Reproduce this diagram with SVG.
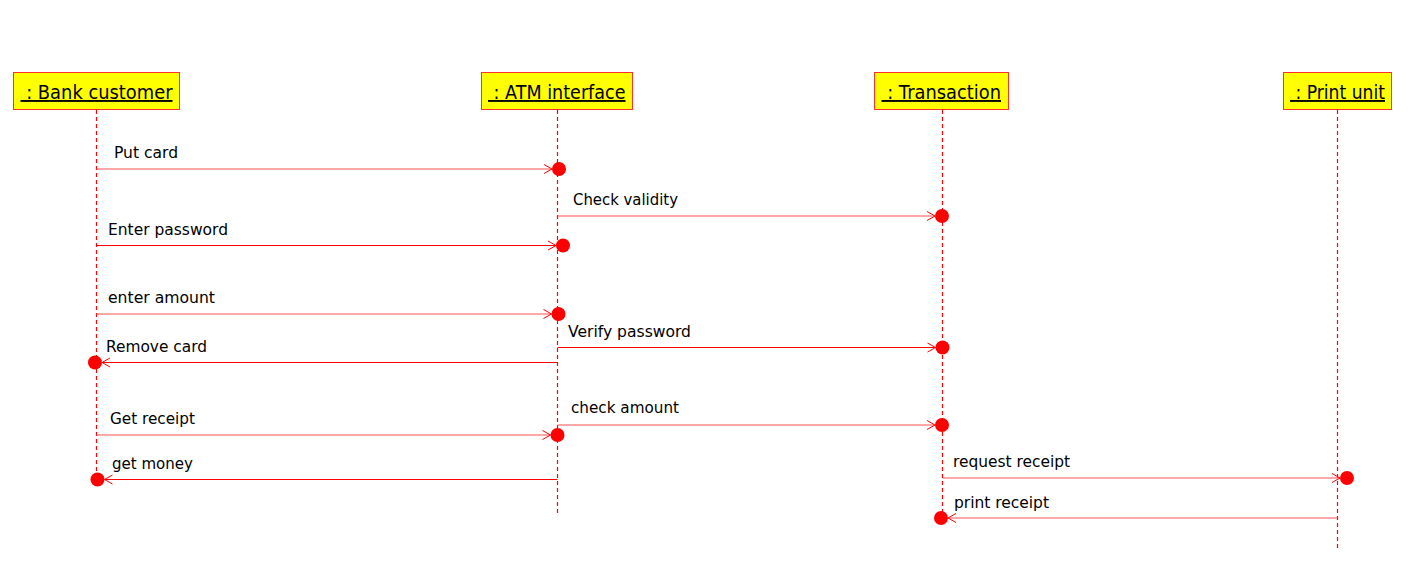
<svg xmlns="http://www.w3.org/2000/svg" width="1421" height="574" viewBox="0 0 1421 574">
<style>
.box{fill:#ffff00;stroke:#ff3030;stroke-width:1}
.hdr{font-family:"DejaVu Sans",Verdana,sans-serif;font-size:19px;fill:#000;text-decoration:underline}
.life{stroke:#ff0000;stroke-width:1.2;stroke-dasharray:4 3;fill:none}
.msg{stroke:#ff0000;stroke-width:1;fill:none}
.lt{stroke:#ff5050}
.lbl{font-family:"DejaVu Sans",Verdana,sans-serif;font-size:16px;fill:#000}
</style>
<defs>
<marker id="hit" markerUnits="userSpaceOnUse" orient="auto" refX="0" refY="0" markerWidth="30" markerHeight="30" overflow="visible">
<path d="M-8,-4.5 L0,0 L-8,4.5" fill="none" stroke="#ff0000" stroke-width="1"/>
<circle cx="7" cy="0" r="7" fill="#ff0000"/>
</marker>
</defs>
<rect width="1421" height="574" fill="#ffffff"/>

<g id="bank-customer">
<rect class="box" x="13.5" y="72.5" width="166" height="37"/>
<line class="life" x1="96.5" y1="110" x2="96.5" y2="479"/>
<text class="hdr" x="20.5" y="99" xml:space="preserve" textLength="152" lengthAdjust="spacingAndGlyphs"> : Bank customer</text>
</g>
<g id="atm-interface">
<rect class="box" x="481.5" y="72.5" width="151" height="37"/>
<line class="life" x1="557.5" y1="110" x2="557.5" y2="514"/>
<text class="hdr" x="488" y="99" xml:space="preserve" textLength="137.5" lengthAdjust="spacingAndGlyphs"> : ATM interface</text>
</g>
<g id="transaction">
<rect class="box" x="874.5" y="72.5" width="134" height="37"/>
<line class="life" x1="942.5" y1="110" x2="942.5" y2="518"/>
<text class="hdr" x="881.5" y="99" xml:space="preserve" textLength="119.5" lengthAdjust="spacingAndGlyphs"> : Transaction</text>
</g>
<g id="print-unit">
<rect class="box" x="1283.5" y="72.5" width="108" height="37"/>
<line class="life" x1="1337.5" y1="110" x2="1337.5" y2="551"/>
<text class="hdr" x="1290" y="99" xml:space="preserve" textLength="95" lengthAdjust="spacingAndGlyphs"> : Print unit</text>
</g>

<g id="connectors">
<line class="msg lt" x1="96.5" y1="169" x2="552" y2="169" marker-end="url(#hit)"/>
<line class="msg lt" x1="557.5" y1="216" x2="935" y2="216" marker-end="url(#hit)"/>
<line class="msg" x1="96.5" y1="245.5" x2="556" y2="245.5" marker-end="url(#hit)"/>
<line class="msg lt" x1="96.5" y1="314" x2="551.5" y2="314" marker-end="url(#hit)"/>
<line class="msg" x1="557.5" y1="347.5" x2="935.5" y2="347.5" marker-end="url(#hit)"/>
<line class="msg" x1="557.5" y1="362.5" x2="102" y2="362.5" marker-end="url(#hit)"/>
<line class="msg lt" x1="557.5" y1="425" x2="935" y2="425" marker-end="url(#hit)"/>
<line class="msg lt" x1="96.5" y1="435" x2="550.5" y2="435" marker-end="url(#hit)"/>
<line class="msg" x1="557.5" y1="479.5" x2="104.5" y2="479.5" marker-end="url(#hit)"/>
<line class="msg lt" x1="942.5" y1="478" x2="1340" y2="478" marker-end="url(#hit)"/>
<line class="msg lt" x1="1337.5" y1="518" x2="948" y2="518" marker-end="url(#hit)"/>
</g>

<g id="labels">
<text class="lbl" x="114" y="158" textLength="64" lengthAdjust="spacingAndGlyphs">Put card</text>
<text class="lbl" x="573" y="205" textLength="105" lengthAdjust="spacingAndGlyphs">Check validity</text>
<text class="lbl" x="108" y="235" textLength="120" lengthAdjust="spacingAndGlyphs">Enter password</text>
<text class="lbl" x="108" y="303" textLength="107" lengthAdjust="spacingAndGlyphs">enter amount</text>
<text class="lbl" x="568" y="337" textLength="123" lengthAdjust="spacingAndGlyphs">Verify password</text>
<text class="lbl" x="106" y="352" textLength="101" lengthAdjust="spacingAndGlyphs">Remove card</text>
<text class="lbl" x="571" y="413" textLength="108" lengthAdjust="spacingAndGlyphs">check amount</text>
<text class="lbl" x="110" y="424" textLength="85" lengthAdjust="spacingAndGlyphs">Get receipt</text>
<text class="lbl" x="112" y="469" textLength="81" lengthAdjust="spacingAndGlyphs">get money</text>
<text class="lbl" x="953" y="467" textLength="117" lengthAdjust="spacingAndGlyphs">request receipt</text>
<text class="lbl" x="954" y="508" textLength="95" lengthAdjust="spacingAndGlyphs">print receipt</text>
</g>
</svg>
